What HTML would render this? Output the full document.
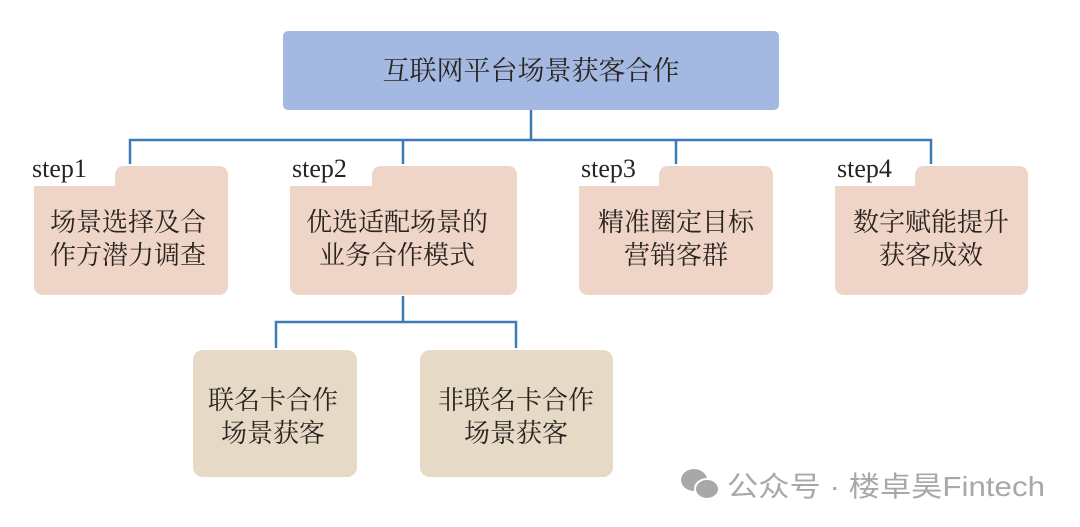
<!DOCTYPE html>
<html><head><meta charset="utf-8"><style>
body{margin:0;background:#fff;width:1080px;height:527px;overflow:hidden}
svg{display:block}
.t{font-family:"Liberation Serif","Noto Serif CJK SC",serif;fill:#2a2420}
</style></head><body>
<svg width="1080" height="527" viewBox="0 0 1080 527">
<rect x="283" y="31" width="496" height="79" rx="5" fill="#a4b9e2"/>
<text class="t" x="531" y="80" font-size="27" text-anchor="middle">互联网平台场景获客合作</text>
<g stroke="#3b7bb6" stroke-width="2.5" fill="none">
<path d="M531 110V140M130 164V140H931V164M403 140V164M676 140V164"/>
<path d="M403 296V322M276 348V322H516V348"/>
</g>
<g fill="#efd5c7">
<path d="M115 176Q115 166 125 166H218Q228 166 228 176V285Q228 295 218 295H44Q34 295 34 285V186H115Z"/>
<path d="M372 176Q372 166 382 166H507Q517 166 517 176V285Q517 295 507 295H300Q290 295 290 285V186H372Z"/>
<path d="M659 176Q659 166 669 166H763Q773 166 773 176V285Q773 295 763 295H589Q579 295 579 285V186H659Z"/>
<path d="M915 176Q915 166 925 166H1018Q1028 166 1028 176V285Q1028 295 1018 295H845Q835 295 835 285V186H915Z"/>
</g>
<g fill="#e6d9c6">
<rect x="193" y="350" width="164" height="127" rx="10"/>
<rect x="420" y="350" width="193" height="127" rx="10"/>
</g>
<g class="t" font-size="26">
<text x="32" y="177">step1</text>
<text x="292" y="177">step2</text>
<text x="581" y="177">step3</text>
<text x="837" y="177">step4</text>
</g>
<g class="t" font-size="26" text-anchor="middle">
<text x="128" y="231">场景选择及合</text><text x="128" y="264">作方潜力调查</text>
<text x="397" y="231">优选适配场景的</text><text x="397" y="264">业务合作模式</text>
<text x="676" y="231">精准圈定目标</text><text x="676" y="264">营销客群</text>
<text x="931" y="231">数字赋能提升</text><text x="931" y="264">获客成效</text>
<text x="273" y="409">联名卡合作</text><text x="273" y="442">场景获客</text>
<text x="516" y="409">非联名卡合作</text><text x="516" y="442">场景获客</text>
</g>
<g fill="#a8a8a8">
<ellipse cx="694" cy="480" rx="13" ry="11"/>
<ellipse cx="707" cy="489" rx="12" ry="10" stroke="#fff" stroke-width="2"/>
</g>
<text x="727" y="496" font-size="28" fill="#a8a8a8" font-family="'Liberation Sans','Noto Sans CJK SC',sans-serif" textLength="318" lengthAdjust="spacingAndGlyphs">公众号 · 楼卓昊Fintech</text>
</svg>
</body></html>
